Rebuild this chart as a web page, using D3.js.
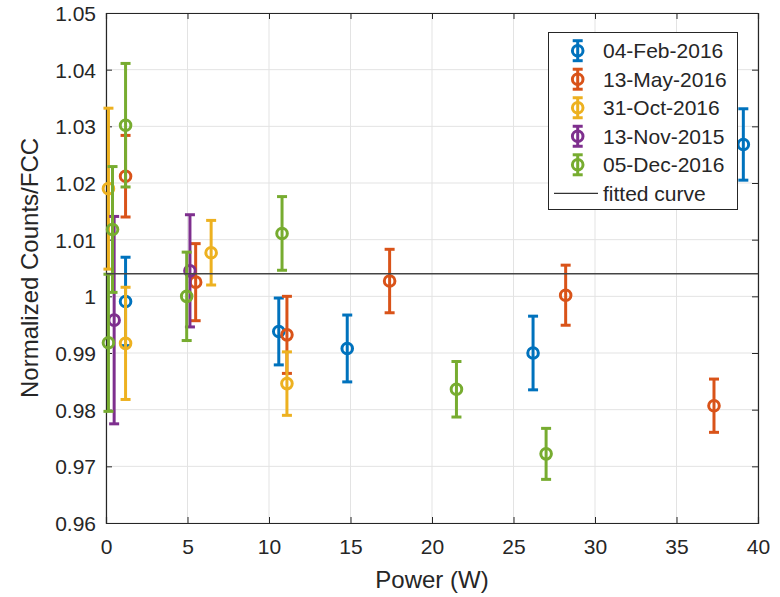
<!DOCTYPE html>
<html>
<head>
<meta charset="utf-8">
<script src="https://cdn.jsdelivr.net/npm/d3@7"></script>
<style>
  html, body { margin: 0; padding: 0; background: #fff; }
  svg { display: block; font-family: "Liberation Sans", Arial, sans-serif; }
</style>
</head>
<body>
<svg id="chart" width="780" height="597"></svg>
<script>
// series labels, colours (MATLAB default order)
const seriesNames = ['04-Feb-2016', '13-May-2016', '31-Oct-2016', '13-Nov-2015', '05-Dec-2016'];
const seriesColors = ['#0072BD', '#D95319', '#EDB120', '#7E2F8E', '#77AC30'];

// [power W, value, error half-width]
const feb2016 = [[1.2, 0.9991, 0.0078], [10.6, 0.9938, 0.0059], [14.8, 0.9908, 0.0059], [26.2, 0.9900, 0.0065], [39.1, 1.0268, 0.0063]];
const may2016 = [[1.2, 1.0212, 0.0072], [5.5, 1.0025, 0.0068], [11.1, 0.9932, 0.0068], [17.4, 1.0027, 0.0056], [28.2, 1.0002, 0.0053], [37.3, 0.9807, 0.0047]];
const oct2016 = [[0.15, 1.0190, 0.0142], [1.2, 0.9917, 0.0099], [6.45, 1.0077, 0.0057], [11.1, 0.9846, 0.0056]];
const nov2015 = [[0.5, 0.9958, 0.0183], [5.15, 1.0045, 0.0099]];
const dec2016 = [[0.15, 0.9918, 0.0121], [0.4, 1.0118, 0.0111], [1.2, 1.0302, 0.0109], [4.95, 1.0000, 0.0078], [10.8, 1.0111, 0.0065], [21.5, 0.9836, 0.0049], [27.0, 0.9722, 0.0045]];
const allSeries = [feb2016, may2016, oct2016, nov2015, dec2016];

const fitValue = 1.004;
const xTicks = [0, 5, 10, 15, 20, 25, 30, 35, 40];
const yTicks = [0.96, 0.97, 0.98, 0.99, 1, 1.01, 1.02, 1.03, 1.04, 1.05];

const svg = d3.select('#chart');
const M = { left: 106, top: 13, right: 758, bottom: 523 };
const x = d3.scaleLinear().domain([0, 40]).range([M.left, M.right]);
const y = d3.scaleLinear().domain([0.96, 1.05]).range([M.bottom, M.top]);
const axisCol = '#262626';

// grid
const grid = svg.append('g');
xTicks.forEach(t => grid.append('line').attr('x1', x(t)).attr('x2', x(t)).attr('y1', M.top).attr('y2', M.bottom)
  .attr('stroke', '#e3e3e3').attr('stroke-width', 1));
yTicks.forEach(t => grid.append('line').attr('x1', M.left).attr('x2', M.right).attr('y1', y(t)).attr('y2', y(t))
  .attr('stroke', '#e3e3e3').attr('stroke-width', 1));

// axes (ticks inside, box on)
const axB = svg.append('g').attr('transform', `translate(0,${M.bottom})`)
  .call(d3.axisBottom(x).tickValues(xTicks).tickSize(-6).tickPadding(12).tickFormat(d3.format('d')));
const axT = svg.append('g').attr('transform', `translate(0,${M.top})`)
  .call(d3.axisTop(x).tickValues(xTicks).tickSize(-6).tickFormat(''));
const axL = svg.append('g').attr('transform', `translate(${M.left},0)`)
  .call(d3.axisLeft(y).tickValues(yTicks).tickSize(-6).tickPadding(10).tickFormat(d => d === 1 ? '1' : d3.format('.2f')(d)));
const axR = svg.append('g').attr('transform', `translate(${M.right},0)`)
  .call(d3.axisRight(y).tickValues(yTicks).tickSize(-6).tickFormat(''));
[axB, axT, axL, axR].forEach(a => {
  a.selectAll('.domain').attr('stroke', axisCol).attr('stroke-width', 1.2);
  a.selectAll('.tick line').attr('stroke', axisCol).attr('stroke-width', 1);
  a.selectAll('text').attr('fill', axisCol).style('font-size', '21px').style('font-family', '"Liberation Sans", Arial, sans-serif');
});
axB.selectAll('text').attr('dy', '0.9em');
axL.selectAll('text').attr('dy', '0.36em');

// axis labels
svg.append('text').attr('x', (M.left + M.right) / 2).attr('y', 588).attr('text-anchor', 'middle')
  .attr('fill', axisCol).style('font-size', '24px').text('Power (W)');
svg.append('text').attr('transform', `translate(38,${(M.top + M.bottom) / 2}) rotate(-90)`)
  .attr('text-anchor', 'middle').attr('fill', axisCol).style('font-size', '24px').text('Normalized Counts/FCC');

// error bars
const capW = 5;
const plot = svg.append('g');
allSeries.forEach((data, si) => {
  const col = seriesColors[si];
  const g = plot.append('g');
  data.forEach(([px, v, e]) => {
    const cx = x(px);
    g.append('line').attr('x1', cx).attr('x2', cx).attr('y1', y(v - e)).attr('y2', y(v + e))
      .attr('stroke', col).attr('stroke-width', 3);
    [v - e, v + e].forEach(c => g.append('line').attr('x1', cx - capW).attr('x2', cx + capW)
      .attr('y1', y(c)).attr('y2', y(c)).attr('stroke', col).attr('stroke-width', 3));
    g.append('circle').attr('cx', cx).attr('cy', y(v)).attr('r', 5.3)
      .attr('fill', 'none').attr('stroke', col).attr('stroke-width', 3);
  });
});

// fitted curve
svg.append('line').attr('x1', M.left).attr('x2', M.right).attr('y1', y(fitValue)).attr('y2', y(fitValue))
  .attr('stroke', '#444').attr('stroke-width', 1.5);

// legend
const lg = svg.append('g');
lg.append('rect').attr('x', 548.5).attr('y', 32.5).attr('width', 189).attr('height', 177)
  .attr('fill', '#fff').attr('stroke', axisCol).attr('stroke-width', 1);
const rowY = d3.scaleLinear().domain([0, 5]).range([50.7, 193.3]);
seriesNames.forEach((name, i) => {
  const cy = rowY(i), cx = 577.7, col = seriesColors[i];
  lg.append('line').attr('x1', cx).attr('x2', cx).attr('y1', cy - 10).attr('y2', cy + 10)
    .attr('stroke', col).attr('stroke-width', 3);
  [cy - 10, cy + 10].forEach(c => lg.append('line').attr('x1', cx - 5).attr('x2', cx + 5)
    .attr('y1', c).attr('y2', c).attr('stroke', col).attr('stroke-width', 3));
  lg.append('circle').attr('cx', cx).attr('cy', cy).attr('r', 5.3).attr('fill', 'none')
    .attr('stroke', col).attr('stroke-width', 3);
  lg.append('text').attr('x', 603).attr('y', cy).attr('dy', '0.36em').attr('fill', axisCol)
    .style('font-size', '21px').text(name);
});
lg.append('line').attr('x1', 554).attr('x2', 598).attr('y1', rowY(5)).attr('y2', rowY(5))
  .attr('stroke', '#000').attr('stroke-width', 1);
lg.append('text').attr('x', 603).attr('y', rowY(5)).attr('dy', '0.36em').attr('fill', axisCol)
  .style('font-size', '21px').text('fitted curve');
</script>
</body>
</html>
